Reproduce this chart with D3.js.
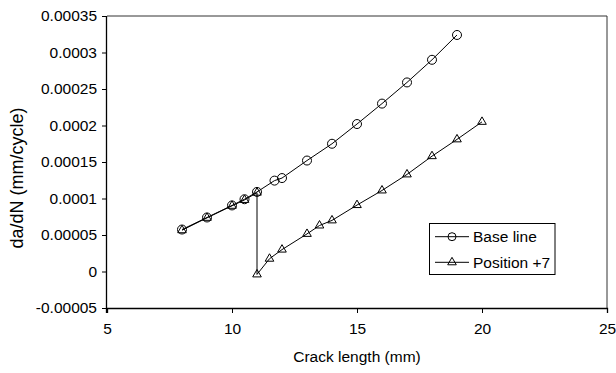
<!DOCTYPE html>
<html><head><meta charset="utf-8">
<script src="https://cdn.jsdelivr.net/npm/d3@7"></script>
<style>body{margin:0;background:#fff}svg{display:block}text{font-family:"Liberation Sans",Arial,sans-serif;fill:#000}</style>
</head><body><svg id="c" width="616" height="373"></svg>
<script>
const baseX = [8, 9, 10, 10.5, 11, 11.7, 12, 13, 14, 15, 16, 17, 18, 19];
const baseY = [0.0000575, 0.000074, 0.0000905, 0.000099, 0.000109, 0.0001245, 0.000128, 0.000152, 0.000175, 0.000202, 0.00023, 0.000259, 0.00029, 0.000324];
const posX = [8, 9, 10, 10.5, 11, 11, 11.5, 12, 13, 13.5, 14, 15, 16, 17, 18, 19, 20];
const posY = [0.0000565, 0.0000735, 0.00009, 0.000098, 0.000108, -0.000004, 0.0000175, 0.000030, 0.0000515, 0.0000630, 0.0000700, 0.0000910, 0.000111, 0.000133, 0.000158, 0.000181, 0.000205];
const xTicks = [5, 10, 15, 20, 25];
const yTicks = [-0.00005, 0, 0.00005, 0.0001, 0.00015, 0.0002, 0.00025, 0.0003, 0.00035];
const yTickLabels = ["-0.00005", "0", "0.00005", "0.0001", "0.00015", "0.0002", "0.00025", "0.0003", "0.00035"];
const seriesNames = ["Base line", "Position +7"];

const L = 107, R = 607, T = 16, B = 308;
const svg = d3.select("#c");
const x = d3.scaleLinear().domain([5, 25]).range([L, R]);
const y = d3.scaleLinear().domain([-0.00005, 0.00035]).range([B, T]);

svg.append("path").attr("d", `M${L},${T}H${R}V${B}`).attr("fill", "none").attr("stroke", "#333").attr("stroke-width", 1);

const xa = svg.append("g").attr("transform", `translate(0,${B})`)
  .call(d3.axisBottom(x).tickValues(xTicks).tickSize(5).tickPadding(10).tickFormat(d3.format("d")));
const ya = svg.append("g").attr("transform", `translate(${L},0)`)
  .call(d3.axisLeft(y).tickValues(yTicks).tickSize(5).tickPadding(5).tickFormat((d, i) => yTickLabels[i]));
[xa, ya].forEach(a => {
  a.select(".domain").attr("stroke", "#000").attr("stroke-width", 1.3);
  a.selectAll(".tick line").attr("stroke", "#000");
  a.selectAll("text").attr("font-size", 15.5).attr("font-family", "Liberation Sans, Arial, sans-serif");
});
ya.select(".domain").attr("d", `M-0.5,${T}V${B + 5}`);

svg.append("text").attr("x", (L + R) / 2).attr("y", 362).attr("text-anchor", "middle").attr("font-size", 15.5).text("Crack length (mm)");
svg.append("text").attr("transform", "translate(23,178) rotate(-90)").attr("text-anchor", "middle").attr("font-size", 18).text("da/dN (mm/cycle)");

const line = d3.line().x(d => x(d[0])).y(d => y(d[1]));
const baseData = baseX.map((v, i) => [v, baseY[i]]);
const posData = posX.map((v, i) => [v, posY[i]]);

svg.append("path").datum(posData).attr("d", line).attr("fill", "none").attr("stroke", "#000").attr("stroke-width", 1);
svg.append("path").datum(baseData).attr("d", line).attr("fill", "none").attr("stroke", "#000").attr("stroke-width", 1);

const tri = d3.symbol().type(d3.symbolTriangle).size(32);
function triangles(g, data) {
  g.selectAll("path.t").data(data).enter().append("path").attr("class", "t")
    .attr("d", tri).attr("transform", d => `translate(${x(d[0])},${y(d[1])})`)
    .attr("fill", "none").attr("stroke", "#000").attr("stroke-width", 1);
}
function circles(g, data) {
  g.selectAll("circle").data(data).enter().append("circle")
    .attr("cx", d => x(d[0])).attr("cy", d => y(d[1])).attr("r", 4.5)
    .attr("fill", "none").attr("stroke", "#000").attr("stroke-width", 1);
}
triangles(svg.append("g"), posData);
circles(svg.append("g"), baseData);

const lg = svg.append("g");
lg.append("rect").attr("x", 429.5).attr("y", 223.5).attr("width", 125.5).attr("height", 51).attr("fill", "#fff").attr("stroke", "#000");
const rows = [236.7, 262.3];
rows.forEach((ry, i) => {
  lg.append("line").attr("x1", 435).attr("x2", 469).attr("y1", ry).attr("y2", ry).attr("stroke", "#000");
  if (i === 0) lg.append("circle").attr("cx", 452).attr("cy", ry).attr("r", 4).attr("fill", "none").attr("stroke", "#000");
  else lg.append("path").attr("d", tri).attr("transform", `translate(452,${ry})`).attr("fill", "none").attr("stroke", "#000");
  lg.append("text").attr("x", 473).attr("y", ry + 5.5).attr("font-size", 15.5).text(seriesNames[i]);
});
</script></body></html>
